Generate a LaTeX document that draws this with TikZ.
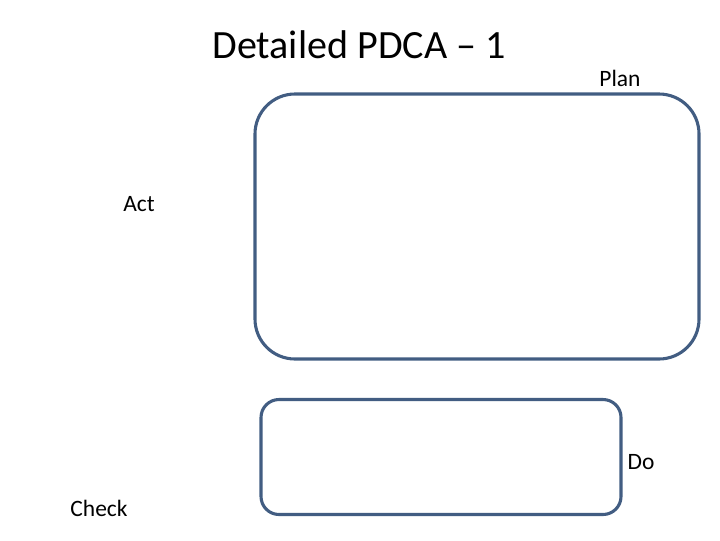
\documentclass[tikz,border=0pt]{standalone}
\usepackage{fontspec}
\setmainfont{Carlito}
\usepackage{tikz}
\usetikzlibrary{positioning}
\definecolor{boxedge}{RGB}{66,93,130}

\begin{document}
\begin{tikzpicture}[x=0.025cm, y=-0.025cm,
    stage/.style={rectangle, draw=boxedge, line width=2.2pt, inner sep=0pt},
    tag/.style  ={font=\fontsize{16.7}{20}\selectfont, inner sep=0pt, anchor=center}
]
\useasboundingbox (0,0) rectangle (720,540);
% --- title ---
\node[font=\fontsize{28.5}{34}\selectfont, inner sep=0pt] (title) at (359,45) {Detailed PDCA -- 1};
% --- boxes ---
\node[stage, rounded corners=40*0.025cm, minimum width=444*0.025cm, minimum height=265*0.025cm] (planbox) at (477,226.5) {};
\node[stage, rounded corners=18*0.025cm, minimum width=360*0.025cm, minimum height=115*0.025cm] (dobox) at (441,457) {};
% --- stage labels ---
\node[tag] (plan)  at (620,78)  {Plan};
\node[tag] (act)   at (139,204) {Act};
\node[tag] (do)    at (641,462) {Do};
\node[tag] (check) at (99,508)  {Check};
\end{tikzpicture}
\end{document}
